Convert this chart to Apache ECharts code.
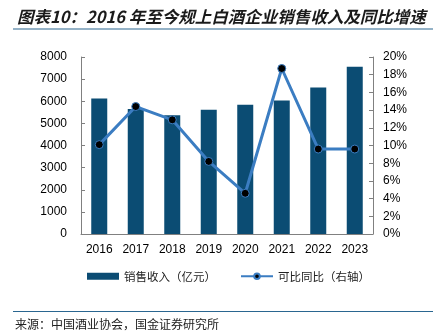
<!DOCTYPE html>
<html><head><meta charset="utf-8">
<script src="https://cdn.jsdelivr.net/npm/echarts@6/dist/echarts.min.js"></script>
<style>html,body{margin:0;padding:0;background:#fff}#c{width:433px;height:332px}</style>
</head><body><div id="c"></div>
<script>
const categories = ['2016','2017','2018','2019','2020','2021','2022','2023'];
const revenue = [6125.7, 5654.4, 5363.8, 5617.8, 5836.4, 6033.5, 6626.5, 7563];
const growth = [10.1, 14.4, 12.9, 8.2, 4.6, 18.7, 9.6, 9.6];
const leftTicks = [0, 8000, 1000];
const rightTicks = [0, 20, 2];

const chart = echarts.init(document.getElementById('c'));
const fontEN = "'Liberation Sans', Arial, sans-serif";
const fontCN = "'Noto Sans CJK SC', sans-serif";
chart.setOption({
  animation: false,
  title: {
    text: '图表10：2016 年至今规上白酒企业销售收入及同比增速',
    left: 12, top: 3,
    textStyle: {fontFamily: fontCN, fontSize: 16.5, fontWeight: 'bold', fontStyle: 'italic', color: '#1a1a1a'}
  },
  graphic: [
    {type: 'line', shape: {x1: 13, y1: 29, x2: 433, y2: 29}, style: {stroke: '#2a6690', lineWidth: 1.2}},
    {type: 'line', shape: {x1: 13, y1: 311.5, x2: 433, y2: 311.5}, style: {stroke: '#2a6690', lineWidth: 1.2}},
    {type: 'text', left: 15, top: 318, style: {text: '来源：中国酒业协会，国金证券研究所', font: '12px ' + fontCN, fill: '#222'}}
  ],
  grid: {left: 81, right: 60, top: 57, bottom: 98},
  legend: {
    bottom: 45, left: 82, itemGap: 24, itemWidth: 32, itemHeight: 7,
    textStyle: {fontFamily: fontCN, fontSize: 11.5, color: '#222'},
    data: [{name: '销售收入（亿元）', icon: 'rect'}, {name: '可比同比（右轴）'}]
  },
  xAxis: {
    type: 'category', data: categories,
    axisLine: {lineStyle: {color: '#808080'}},
    axisTick: {inside: true, length: 4, lineStyle: {color: '#808080'}},
    axisLabel: {fontFamily: fontEN, fontSize: 12, color: '#000', margin: 10}
  },
  yAxis: [
    {type: 'value', min: leftTicks[0], max: leftTicks[1], interval: leftTicks[2],
      axisLine: {show: true, lineStyle: {color: '#808080'}},
      axisTick: {show: true, inside: true, length: 4, lineStyle: {color: '#808080'}},
      splitLine: {show: false},
      axisLabel: {fontFamily: fontEN, fontSize: 12, color: '#000', margin: 14, formatter: function (v) { return String(v); }}},
    {type: 'value', min: rightTicks[0], max: rightTicks[1], interval: rightTicks[2],
      axisLine: {show: true, lineStyle: {color: '#808080'}},
      axisTick: {show: true, inside: true, length: 4, lineStyle: {color: '#808080'}},
      splitLine: {show: false},
      axisLabel: {fontFamily: fontEN, fontSize: 12, color: '#000', margin: 10, formatter: '{value}%'}}
  ],
  series: [
    {name: '销售收入（亿元）', type: 'bar', data: revenue, barWidth: 16,
      itemStyle: {color: '#0b4c73'}},
    {name: '可比同比（右轴）', type: 'line', yAxisIndex: 1, data: growth,
      symbol: 'circle', symbolSize: 8,
      lineStyle: {color: '#3b7dc2', width: 3},
      itemStyle: {color: '#000', borderColor: '#3b7dc2', borderWidth: 1}}
  ]
});
</script></body></html>
